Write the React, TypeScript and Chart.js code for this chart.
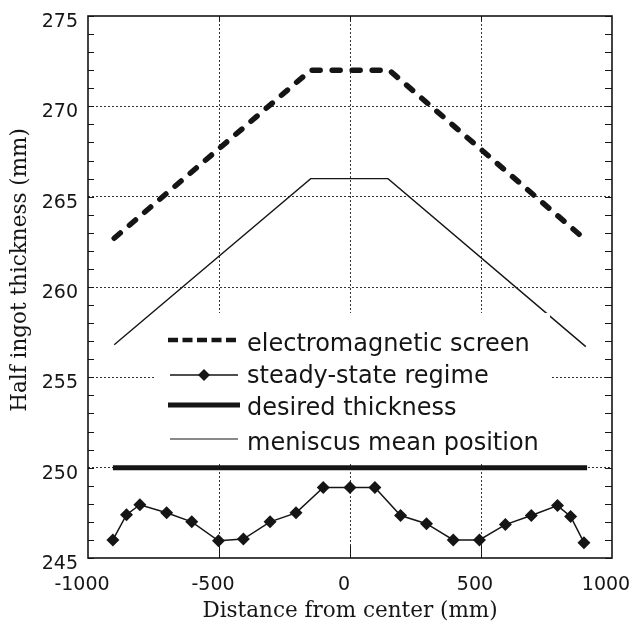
import React, { useEffect, useRef } from 'react';
import { Chart, registerables } from 'chart.js';

Chart.register(...registerables);

// ---- data ----
const screenX = [-900, -150, 150, 900];
const screenY = [262.7, 272, 272, 262.6];
const meniscusX = [-900, -150, 145, 900];
const meniscusY = [256.8, 266, 266, 256.7];
const desiredX = [-905, 905];
const desiredY = [250, 250];
const steadyX = [-905, -853, -802, -700, -604, -502, -407, -305, -206, -102, 0, 95, 193, 292, 394, 494, 593, 692, 792, 842, 893];
const steadyY = [246.0, 247.4, 247.95, 247.5, 247.0, 245.95, 246.05, 247.0, 247.5, 248.9, 248.9, 248.9, 247.35, 246.9, 246.0, 246.0, 246.85, 247.35, 247.9, 247.3, 245.85];
const xTickValues = [-1000, -500, 0, 500, 1000];
const yTickValues = [245, 250, 255, 260, 265, 270, 275];
const legendLabels = ['electromagnetic screen', 'steady-state regime', 'desired thickness', 'meniscus mean position'];
const xTitle = 'Distance from center (mm)';
const yTitle = 'Half ingot thickness (mm)';

const zip = (xs: number[], ys: number[]) => xs.map((x, i) => ({ x, y: ys[i] }));

const TICK_FONT = { family: '"DejaVu Sans"', size: 19 };
const TITLE_FONT = { family: '"DejaVu Serif"', size: 21.5, lineHeight: 1 };
const INK = '#151515';

const decorPlugin = {
  id: 'decor',
  afterDatasetsDraw(chart: any) {
    const { ctx, chartArea: a } = chart;
    ctx.save();
    // legend box (white, covers grid)
    const L = a.left + 67, T = a.top + 297, R = a.left + 462, B = a.top + 447;
    ctx.fillStyle = '#ffffff';
    ctx.fillRect(L, T, R - L, B - T);
    const sx0 = a.left + 80, sx1 = a.left + 152, tx = a.left + 159;
    const lineY = [a.top + 324, a.top + 359, a.top + 389, a.top + 423];
    const textY = [a.top + 335, a.top + 367, a.top + 399, a.top + 434];
    ctx.strokeStyle = INK;
    ctx.fillStyle = INK;
    // row 1 dashed
    ctx.lineWidth = 4.5;
    ctx.setLineDash([10, 4.5]);
    ctx.beginPath(); ctx.moveTo(sx0, lineY[0]); ctx.lineTo(sx1, lineY[0]); ctx.stroke();
    ctx.setLineDash([]);
    // row 2 thin + diamond
    ctx.lineWidth = 1.5;
    ctx.beginPath(); ctx.moveTo(sx0 + 2, lineY[1]); ctx.lineTo(sx1 - 2, lineY[1]); ctx.stroke();
    const dx = (sx0 + sx1) / 2, dy = lineY[1], r = 6;
    ctx.beginPath(); ctx.moveTo(dx, dy - r); ctx.lineTo(dx + r, dy); ctx.lineTo(dx, dy + r); ctx.lineTo(dx - r, dy); ctx.closePath(); ctx.fill();
    // row 3 thick
    ctx.lineWidth = 5;
    ctx.beginPath(); ctx.moveTo(sx0, lineY[2]); ctx.lineTo(sx1, lineY[2]); ctx.stroke();
    // row 4 thin
    ctx.lineWidth = 1;
    ctx.beginPath(); ctx.moveTo(sx0 + 2, lineY[3]); ctx.lineTo(sx1 - 2, lineY[3]); ctx.stroke();
    // text
    ctx.font = '24px "DejaVu Sans"';
    ctx.textAlign = 'left';
    ctx.textBaseline = 'alphabetic';
    legendLabels.forEach((t, i) => ctx.fillText(t, tx, textY[i]));
    ctx.restore();
  },
  afterDraw(chart: any) {
    const { ctx, chartArea: a, scales } = chart;
    const y = scales.y, x = scales.x;
    ctx.save();
    ctx.strokeStyle = INK;
    ctx.lineWidth = 1;
    ctx.beginPath();
    for (let v = 245; v <= 275; v += 1) {
      const py = Math.round(y.getPixelForValue(v)) + 0.5;
      ctx.moveTo(a.left, py); ctx.lineTo(a.left + 6, py);
      ctx.moveTo(a.right, py); ctx.lineTo(a.right - 7, py);
    }
    [-500, 0, 500].forEach((v) => {
      const px = Math.round(x.getPixelForValue(v)) + 0.5;
      ctx.moveTo(px, a.bottom); ctx.lineTo(px, a.bottom - 12);
      ctx.moveTo(px, a.top); ctx.lineTo(px, a.top + 5);
    });
    ctx.stroke();
    ctx.lineWidth = 1.6;
    ctx.strokeRect(a.left, a.top, a.right - a.left, a.bottom - a.top);
    ctx.restore();
  },
};

export default function App() {
  const ref = useRef<HTMLCanvasElement>(null);
  useEffect(() => {
    const chart = new Chart(ref.current as HTMLCanvasElement, {
      type: 'line',
      data: {
        datasets: [
          {
            label: legendLabels[0],
            data: zip(screenX, screenY),
            borderColor: INK,
            borderWidth: 5.5,
            borderDash: [8, 12],
            borderCapStyle: 'round',
            pointRadius: 0,
            tension: 0,
          },
          {
            label: legendLabels[1],
            data: zip(steadyX, steadyY),
            borderColor: INK,
            backgroundColor: INK,
            borderWidth: 1.5,
            pointStyle: 'rectRot',
            pointRadius: 6.5,
            pointBorderWidth: 0,
            pointBackgroundColor: INK,
            tension: 0,
          },
          {
            label: legendLabels[2],
            data: zip(desiredX, desiredY),
            borderColor: INK,
            borderWidth: 5,
            pointRadius: 0,
            tension: 0,
          },
          {
            label: legendLabels[3],
            data: zip(meniscusX, meniscusY),
            borderColor: INK,
            borderWidth: 1.4,
            pointRadius: 0,
            tension: 0,
          },
        ],
      } as any,
      options: {
        animation: false,
        responsive: false,
        events: [],
        layout: { padding: { top: 16, right: 19, left: 0, bottom: 0 } },
        plugins: { legend: { display: false }, tooltip: { enabled: false } },
        scales: {
          x: {
            type: 'linear',
            min: -1000,
            max: 1000,
            afterFit: (s: any) => { s.height = 67; s.paddingLeft = 0; s.paddingRight = 0; },
            afterBuildTicks: (s: any) => { s.ticks = xTickValues.map((v) => ({ value: v })); },
            ticks: {
              font: TICK_FONT, color: INK, padding: 16, labelOffset: -6, autoSkip: false, maxRotation: 0,
              callback: (v: any) => String(v),
            },
            grid: {
              drawTicks: false,
              lineWidth: 1,
              color: (c: any) => (c.tick && Math.abs(c.tick.value) < 1000 ? '#333333' : 'rgba(0,0,0,0)'),
            },
            border: { display: false, dash: [2, 2] },
            title: { display: true, text: xTitle, font: TITLE_FONT, color: INK, padding: { top: 0, bottom: 3 } },
          },
          y: {
            type: 'linear',
            min: 245,
            max: 275,
            afterFit: (s: any) => { s.width = 88; s.paddingTop = 0; s.paddingBottom = 0; },
            afterBuildTicks: (s: any) => { s.ticks = yTickValues.map((v) => ({ value: v })); },
            ticks: { font: TICK_FONT, color: INK, padding: 10, labelOffset: 6, autoSkip: false, callback: (v: any) => String(v) },
            grid: {
              drawTicks: false,
              lineWidth: 1,
              color: (c: any) => (c.tick && c.tick.value > 245 && c.tick.value < 275 ? '#333333' : 'rgba(0,0,0,0)'),
            },
            border: { display: false, dash: [2, 2] },
            title: { display: true, text: '     ' + yTitle, font: TITLE_FONT, color: INK, padding: { top: 10, bottom: 0 } },
          },
        },
      } as any,
      plugins: [decorPlugin],
    });
    return () => chart.destroy();
  }, []);
  return (
    <div style={{ position: 'absolute', left: 0, top: 0, width: 631, height: 625, background: '#ffffff' }}>
      <canvas ref={ref} width={631} height={625} style={{ display: 'block' }} />
    </div>
  );
}
